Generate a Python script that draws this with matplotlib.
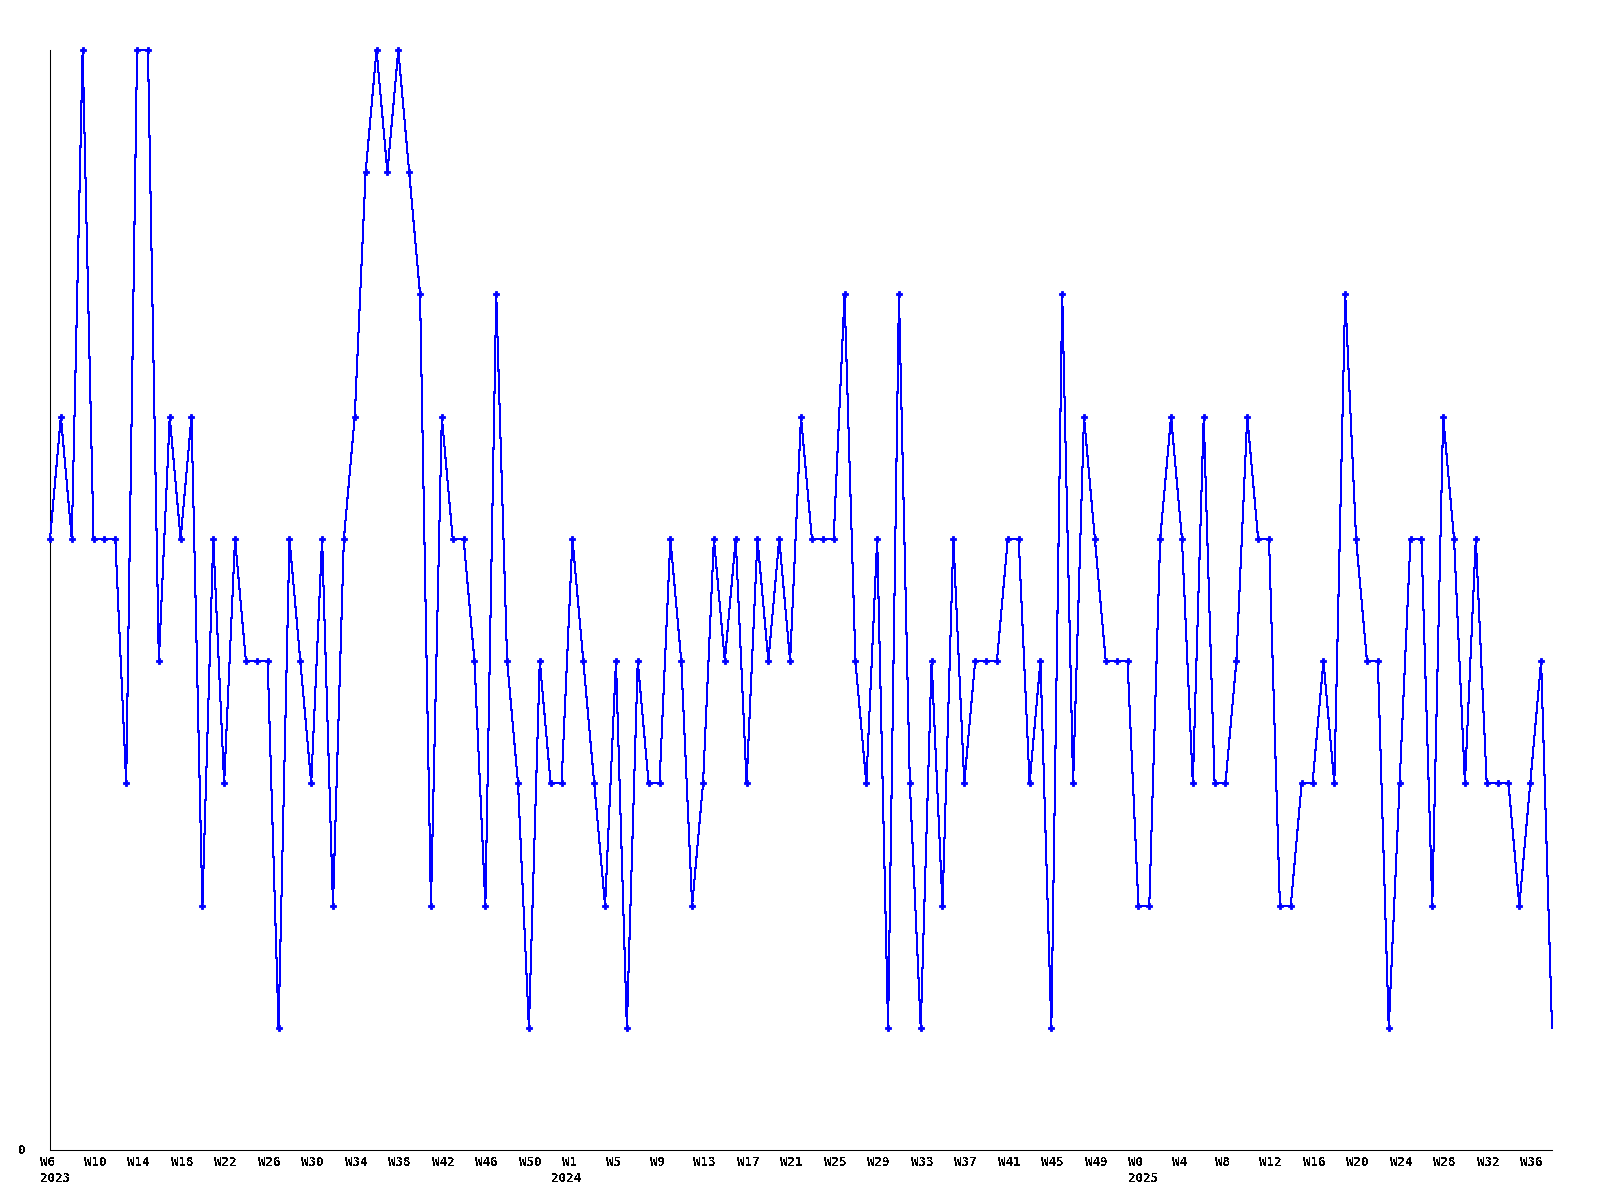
import matplotlib
matplotlib.use("Agg")
import matplotlib.pyplot as plt
from matplotlib.transforms import offset_copy

# weekly values, 2023 W6 ... 2025 W38
values = [
    5, 6, 5, 9, 5, 5, 5, 3, 9, 9,
    4, 6, 5, 6, 2, 5, 3, 5, 4, 4,
    4, 1, 5, 4, 3, 5, 2, 5, 6, 8,
    9, 8, 9, 8, 7, 2, 6, 5, 5, 4,
    2, 7, 4, 3, 1, 4, 3, 3, 5, 4,
    3, 2, 4, 1, 4, 3, 3, 5, 4, 2,
    3, 5, 4, 5, 3, 5, 4, 5, 4, 6,
    5, 5, 5, 7, 4, 3, 5, 1, 7, 3,
    1, 4, 2, 5, 3, 4, 4, 4, 5, 5,
    3, 4, 1, 7, 3, 6, 5, 4, 4, 4,
    2, 2, 5, 6, 5, 3, 6, 3, 3, 4,
    6, 5, 5, 2, 2, 3, 3, 4, 3, 7,
    5, 4, 4, 1, 3, 5, 5, 2, 6, 5,
    3, 5, 3, 3, 3, 2, 3, 4, 1,
]

week_labels = ["W6", "W10", "W14", "W18", "W22", "W26", "W30", "W34", "W38",
               "W42", "W46", "W50",
               "W1", "W5", "W9", "W13", "W17", "W21", "W25", "W29", "W33",
               "W37", "W41", "W45", "W49",
               "W0", "W4", "W8", "W12", "W16", "W20", "W24", "W28", "W32", "W36"]
label_step = 4
years = ["2023", "2024", "2025"]
year_start_week_index = [0, 47, 100]

plt.rcParams['text.antialiased'] = False
fig = plt.figure(figsize=(16, 12), dpi=100)
ax = fig.add_axes([50/1600, 50/1200, (1552-50)/1600, (1150-50)/1200])

x = list(range(len(values)))
ax.plot(x, values, color=(0, 0, 1), lw=0.75, antialiased=False,
        marker='P', markersize=4.5, markevery=list(range(len(values)-1)),
        markerfacecolor=(0, 0, 1), markeredgecolor=(0, 0, 1), markeredgewidth=0.6,
        clip_on=False, zorder=3)

ax.set_xlim(0, len(values)-1)
ax.set_ylim(0, 9)
for s in ['top', 'right']:
    ax.spines[s].set_visible(False)
for s in ['left', 'bottom']:
    ax.spines[s].set_color('black')
    ax.spines[s].set_linewidth(0.75)
ax.set_xticks([])
ax.set_yticks([])

font = dict(family='DejaVu Sans Mono', fontsize=9, fontweight='bold', color='black')
trans_w = offset_copy(ax.get_xaxis_transform(), fig=fig, x=-10, y=-12, units='dots')
trans_y = offset_copy(ax.get_xaxis_transform(), fig=fig, x=-10, y=-28, units='dots')
for k, lab in enumerate(week_labels):
    ax.text(k * label_step, 0, lab, transform=trans_w, ha='left', va='center', **font)
for yr, xi in zip(years, year_start_week_index):
    ax.text(xi, 0, yr, transform=trans_y, ha='left', va='center', **font)

trans0 = offset_copy(ax.transData, fig=fig, x=-24, y=0, units='dots')
ax.text(0, 0, "0", transform=trans0, ha='right', va='center', **font)

fig.savefig("out.png", dpi=100, facecolor='white')
